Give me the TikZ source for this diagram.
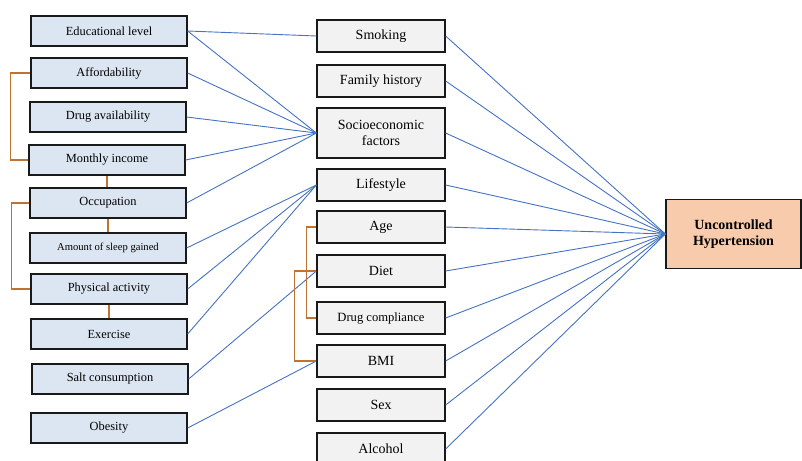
\documentclass[tikz,border=0pt]{standalone}
\usepackage{fontspec}
\setmainfont{Liberation Serif}
\usepackage{xcolor}
\definecolor{leftblue}{HTML}{DCE6F2}
\definecolor{midgrey}{HTML}{F2F2F2}
\definecolor{peach}{HTML}{F8CBAD}
\definecolor{linkblue}{HTML}{4472C4}
\definecolor{brackbrown}{HTML}{BF7332}

\begin{document}
\begin{tikzpicture}[
		x=1pt, y=-1pt,
		cause/.style={draw=black!90,line width=1.3pt,fill=leftblue,minimum width=156pt,minimum height=30pt,inner sep=1pt,font=\fontsize{12.4}{15}\selectfont},
		factor/.style={draw=black!90,line width=1.3pt,fill=midgrey,minimum width=128pt,minimum height=32pt,inner sep=1pt,align=center,font=\fontsize{14}{16}\selectfont},
		outcome/.style={draw=black!90,line width=1.3pt,fill=peach,minimum width=135pt,minimum height=69pt,align=center,font=\fontsize{14}{16}\selectfont\bfseries},
		link/.style={draw=linkblue,line width=0.9pt},
		bracket/.style={draw=brackbrown,line width=1.2pt}
	]
		\useasboundingbox (0,0) rectangle (802,460);

		% linke Spalte
		\node[cause] (edu) at (109,31) {Educational level};
		\node[cause] (afford) at (109,73) {Affordability};
		\node[cause] (drugav) at (108,117) {Drug availability};
		\node[cause] (income) at (107,160) {Monthly income};
		\node[cause] (occup) at (108,203) {Occupation};
		\node[cause,font=\fontsize{10.6}{13}\selectfont] (sleep) at (108,248) {Amount of sleep gained};
		\node[cause] (physact) at (109,289) {Physical activity};
		\node[cause] (exercise) at (109,334) {Exercise};
		\node[cause] (salt) at (110,379) {Salt consumption};
		\node[cause] (obesity) at (109,428) {Obesity};

		% mittlere Spalte
		\node[factor] (smoking) at (381,36) {Smoking};
		\node[factor] (family) at (381,81) {Family history};
		\node[factor,minimum height=50pt] (socio) at (381,133) {Socioeconomic\\factors};
		\node[factor] (lifestyle) at (381,185) {Lifestyle};
		\node[factor] (age) at (381,227) {Age};
		\node[factor] (diet) at (381,271) {Diet};
		\node[factor,font=\fontsize{12.6}{15}\selectfont] (compliance) at (381,318) {Drug compliance};
		\node[factor] (bmi) at (381,361) {BMI};
		\node[factor] (sex) at (381,405) {Sex};
		\node[factor] (alcohol) at (381,449) {Alcohol};

		% Ergebnis
		\node[outcome] (uht) at (733.5,234) {Uncontrolled\\Hypertension};

		% Verbindungen links -> Mitte
		\foreach \a/\b in {edu/smoking,edu/socio,afford/socio,drugav/socio,income/socio,occup/socio,sleep/lifestyle,physact/lifestyle,exercise/lifestyle,salt/diet,obesity/bmi}
			\draw[link] (\a.east) -- (\b.west);

		% Verbindungen Mitte -> Ergebnis
		\foreach \m in {smoking,family,socio,lifestyle,age,diet,compliance,bmi,sex,alcohol}
			\draw[link] (\m.east) -- (uht.west);

		% Klammern
		\draw[bracket] (afford.west) -- ++(-20,0) |- (income.west);
		\draw[bracket] (occup.west) -- ++(-18,0) |- (physact.west);
		\draw[bracket] (income.south) -- (income.south |- occup.north);
		\draw[bracket] (occup.south) -- (occup.south |- sleep.north);
		\draw[bracket] (physact.south) -- (physact.south |- exercise.north);
		\draw[bracket] (age.west) -- ++(-10,0) |- (compliance.west);
		\draw[bracket] (diet.west) -- ++(-22,0) |- (bmi.west);
	\end{tikzpicture}
\end{document}
